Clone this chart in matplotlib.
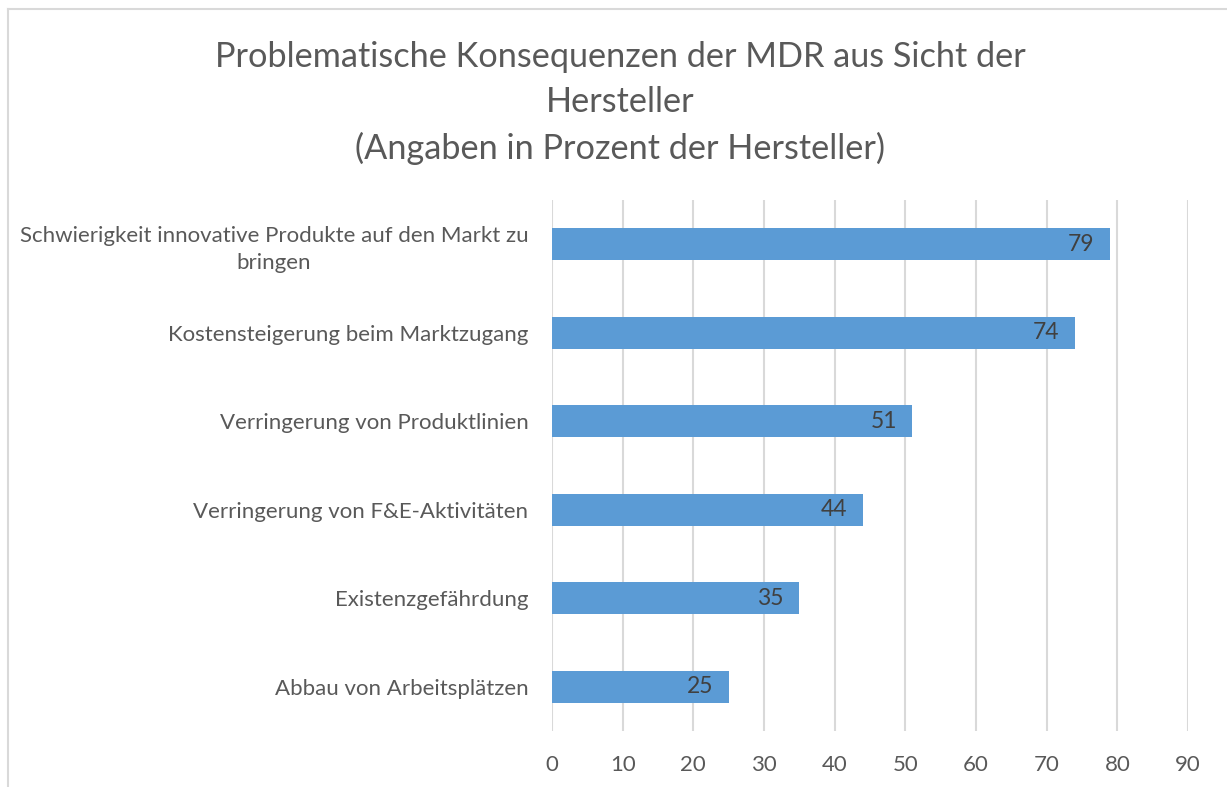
import matplotlib.pyplot as plt
from matplotlib.lines import Line2D

plt.rcParams['font.family'] = ['Lato', 'DejaVu Sans']

# Daten (von unten nach oben)
kategorien = [
    'Abbau von Arbeitsplätzen',
    'Existenzgefährdung',
    'Verringerung von F&E-Aktivitäten',
    'Verringerung von Produktlinien',
    'Kostensteigerung beim Marktzugang',
    'Schwierigkeit innovative Produkte auf den Markt zu\nbringen',
]
werte = [25, 35, 44, 51, 74, 79]
x_ticks = [0, 10, 20, 30, 40, 50, 60, 70, 80, 90]

text_farbe = '#595959'
balken_farbe = '#5B9BD5'
gitter_farbe = '#D9D9D9'

fig = plt.figure(figsize=(12.27, 7.87), dpi=100)
ax = fig.add_axes([552 / 1227, 1 - 731 / 787, (1188 - 552) / 1227, (731 - 200) / 787])

y = range(len(kategorien))
bars = ax.barh(y, werte, height=0.36, color=balken_farbe, zorder=3)

for b, w in zip(bars, werte):
    ax.text(w - 2.2, b.get_y() + b.get_height() / 2, str(w), ha='right', va='center',
            fontsize=16.5, color='#404040', zorder=4)

ax.set_xlim(0, 90)
ax.set_ylim(-0.5, len(kategorien) - 0.5)
ax.set_xticks(x_ticks)
ax.set_yticks(list(y))
ax.set_yticklabels(kategorien, multialignment='center', linespacing=1.45)
ax.tick_params(axis='both', length=0, labelsize=16, labelcolor=text_farbe)
ax.tick_params(axis='x', pad=17)
ax.tick_params(axis='y', pad=17)
ax.grid(axis='x', color=gitter_farbe, linewidth=1.5, zorder=0)
for s in ax.spines.values():
    s.set_visible(False)

fig.text(620 / 1227, 1 - 103 / 787,
         'Problematische Konsequenzen der MDR aus Sicht der\nHersteller\n(Angaben in Prozent der Hersteller)',
         ha='center', va='center', fontsize=24.7, color=text_farbe, linespacing=1.52)

# Rahmen des Diagramms (oben und links sichtbar)
fig.add_artist(Line2D([8 / 1227, 1], [1 - 9 / 787] * 2, color=gitter_farbe, linewidth=1.5))
fig.add_artist(Line2D([8 / 1227] * 2, [0, 1 - 9 / 787], color=gitter_farbe, linewidth=1.5))

fig.savefig('out.png', dpi=100, facecolor='white')
